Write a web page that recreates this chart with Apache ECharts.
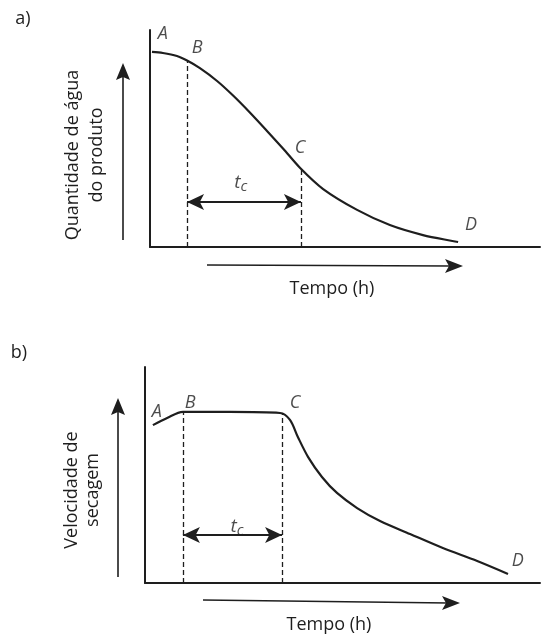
<!DOCTYPE html>
<html>
<head>
<meta charset="utf-8">
<script src="https://cdn.jsdelivr.net/npm/echarts@6/dist/echarts.min.js"></script>
<style>html,body{margin:0;padding:0;background:#fff}#c{width:543px;height:639px}</style>
</head>
<body>
<div id="c"></div>
<script>
// Panel a: quantidade de água do produto vs tempo (arbitrary units 0-10)
var timeA  = [0.05, 0.33, 0.69, 0.95, 1.28, 1.72, 2.13, 2.56, 3.00, 3.41, 3.85, 4.44, 5.31, 6.15, 7.00, 7.90];
var waterA = [8.99, 8.94, 8.80, 8.59, 8.24, 7.65, 6.98, 6.20, 5.35, 4.54, 3.64, 2.67, 1.71, 1.01, 0.55, 0.23];
var critA  = {tB: 0.95, yB: 8.59, tC: 3.87, yC: 3.60, yArrow: 2.07};
var ptNamesA = ['A', 'B', 'C', 'D'];
var ptPosA   = [[0.33, 9.82], [1.21, 9.17], [3.85, 4.56], [8.23, 1.01]];
var tcPosA   = [2.33, 2.95];

// Panel b: velocidade de secagem vs tempo (arbitrary units 0-10)
var timeB  = [0.20, 0.56, 0.96, 2.15, 3.42, 3.67, 3.87, 4.13, 4.48, 4.86, 5.37, 5.95, 6.71, 7.54, 8.41, 9.19];
var rateB  = [7.31, 7.64, 7.92, 7.92, 7.87, 7.55, 6.76, 5.83, 4.91, 4.17, 3.47, 2.87, 2.27, 1.62, 1.02, 0.42];
var critB  = {tB: 0.96, yB: 7.92, tC: 3.47, yC: 7.84, yArrow: 2.22};
var ptNamesB = ['A', 'B', 'C', 'D'];
var ptPosB   = [[0.30, 7.92], [1.14, 8.33], [3.80, 8.33], [9.44, 1.02]];
var tcPosB   = [2.33, 2.59];

var panelLabels = ['a)', 'b)'];
var yTitles = ['Quantidade de água\ndo produto', 'Velocidade de\nsecagem'];
var xTitle = 'Tempo (h)';

var INK = '#1e1e1e';
var FONT = '"Open Sans", "Noto Sans", sans-serif';

function zip(xs, ys) { return xs.map(function (x, i) { return [x, ys[i]]; }); }

function axisPair(gi) {
  return {
    type: 'value', gridIndex: gi, min: 0, max: 10,
    axisLine: {show: true, lineStyle: {color: INK, width: 2}},
    axisTick: {show: false}, axisLabel: {show: false}, splitLine: {show: false}
  };
}

function markLines(c) {
  return {
    silent: true, animation: false, label: {show: false},
    data: [
      [{coord: [c.tB, 0], symbol: 'none', lineStyle: {type: [5, 3], width: 1.3, color: INK}},
       {coord: [c.tB, c.yB], symbol: 'none'}],
      [{coord: [c.tC, 0], symbol: 'none', lineStyle: {type: [5, 3], width: 1.3, color: INK}},
       {coord: [c.tC, c.yC], symbol: 'none'}],
      [{coord: [c.tB, c.yArrow], symbol: 'arrow', symbolSize: [12, 17], lineStyle: {type: 'solid', width: 1.8, color: INK}},
       {coord: [c.tC, c.yArrow], symbol: 'arrow', symbolSize: [12, 17]}]
    ]
  };
}

function pointLabels(gi, names, pos, tc) {
  var data = names.map(function (n, i) {
    return {value: pos[i], label: {formatter: n}};
  });
  data.push({value: tc, label: {formatter: '{t|t}{s|c}'}});
  return {
    type: 'scatter', xAxisIndex: gi, yAxisIndex: gi, symbolSize: 0, silent: true,
    data: data,
    label: {
      show: true, position: 'inside', color: INK, fontFamily: FONT, fontSize: 18, fontStyle: 'italic',
      rich: {
        t: {fontFamily: FONT, fontSize: 19, fontStyle: 'italic', color: INK},
        s: {fontFamily: FONT, fontSize: 15, fontStyle: 'italic', color: INK, padding: [8, 0, 0, 0]}
      }
    }
  };
}

function arrowV(x, yBottom, yTip) {
  return [
    {type: 'line', shape: {x1: x, y1: yBottom, x2: x, y2: yTip + 12}, style: {stroke: INK, lineWidth: 1.6}},
    {type: 'polygon', shape: {points: [[x, yTip], [x - 7, yTip + 17], [x, yTip + 14], [x + 7, yTip + 17]]}, style: {fill: INK}}
  ];
}
function arrowH(xLeft, xTip, y1, y2) {
  return [
    {type: 'line', shape: {x1: xLeft, y1: y1, x2: xTip - 12, y2: y2}, style: {stroke: INK, lineWidth: 1.6}},
    {type: 'polygon', shape: {points: [[xTip, y2], [xTip - 18, y2 - 7], [xTip - 14, y2], [xTip - 18, y2 + 7]]}, style: {fill: INK}}
  ];
}
function textEl(str, x, y, size, rot, lh) {
  return {type: 'text', x: x, y: y, rotation: rot || 0,
    style: {text: str, fill: INK, font: size + 'px ' + FONT, align: 'center', verticalAlign: 'middle', lineHeight: lh || size + 4}};
}

var graphics = []
  .concat(arrowV(123, 240, 63))
  .concat(arrowH(207, 463, 265, 266))
  .concat(arrowV(118, 577, 398))
  .concat(arrowH(203, 460, 600, 603))
  .concat([
    textEl(panelLabels[0], 23, 19, 18),
    textEl(panelLabels[1], 19, 353, 18),
    textEl(yTitles[0], 85, 155, 18, Math.PI / 2, 24),
    textEl(yTitles[1], 82, 490, 18, Math.PI / 2, 21),
    textEl(xTitle, 332, 289, 18),
    textEl(xTitle, 329, 625, 18)
  ]);

var chart = echarts.init(document.getElementById('c'), null, {renderer: 'canvas'});
chart.setOption({
  animation: false,
  backgroundColor: '#fff',
  grid: [
    {left: 150, top: 30, width: 390, height: 217},
    {left: 145, top: 367, width: 395, height: 216}
  ],
  xAxis: [axisPair(0), axisPair(1)],
  yAxis: [axisPair(0), axisPair(1)],
  series: [
    {type: 'line', xAxisIndex: 0, yAxisIndex: 0, data: zip(timeA, waterA), smooth: 0.3,
     showSymbol: false, lineStyle: {color: INK, width: 2.2}, markLine: markLines(critA)},
    {type: 'line', xAxisIndex: 1, yAxisIndex: 1, data: zip(timeB, rateB), smooth: 0.3,
     showSymbol: false, lineStyle: {color: INK, width: 2.2}, markLine: markLines(critB)},
    pointLabels(0, ptNamesA, ptPosA, tcPosA),
    pointLabels(1, ptNamesB, ptPosB, tcPosB)
  ],
  graphic: graphics
});
</script>
</body>
</html>
